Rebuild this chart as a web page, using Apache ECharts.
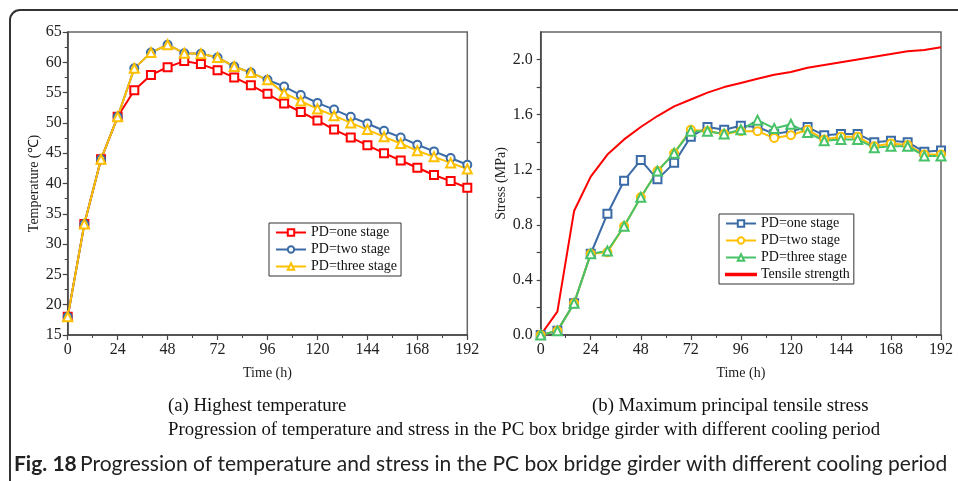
<!DOCTYPE html>
<html>
<head>
<meta charset="utf-8">
<script src="https://cdn.jsdelivr.net/npm/echarts@6/dist/echarts.min.js"></script>
<style>
  html, body { margin: 0; padding: 0; background: #fff; }
  #chart { width: 958px; height: 481px; }
</style>
</head>
<body>
<div id="chart"></div>
<script>
// Sampling times (h)
const hours = [0, 8, 16, 24, 32, 40, 48, 56, 64, 72, 80, 88, 96, 104, 112, 120, 128, 136, 144, 152, 160, 168, 176, 184, 192];

// (a) Highest temperature (℃)
const tempOneStage = [18.0, 33.3, 44.0, 51.0, 55.4, 57.9, 59.2, 60.2, 59.7, 58.7, 57.5, 56.2, 54.8, 53.2, 51.8, 50.4, 48.9, 47.6, 46.3, 45.0, 43.8, 42.6, 41.4, 40.4, 39.3];
const tempTwoStage = [18.0, 33.3, 44.0, 51.0, 59.0, 61.6, 62.9, 61.5, 61.4, 60.8, 59.3, 58.3, 57.1, 56.0, 54.6, 53.3, 52.2, 51.0, 49.9, 48.7, 47.6, 46.4, 45.3, 44.2, 43.1];
const tempThreeStage = [18.0, 33.3, 44.0, 51.0, 59.0, 61.6, 62.9, 61.5, 61.4, 60.8, 59.3, 58.3, 57.1, 54.9, 53.6, 52.3, 51.2, 50.0, 48.9, 47.7, 46.6, 45.4, 44.4, 43.4, 42.4];

// (b) Maximum principal tensile stress (MPa)
const stressOneStage = [0, 0.03, 0.23, 0.59, 0.88, 1.12, 1.27, 1.13, 1.25, 1.44, 1.51, 1.49, 1.52, 1.51, 1.46, 1.48, 1.51, 1.45, 1.46, 1.46, 1.40, 1.41, 1.40, 1.33, 1.34];
const stressTwoStage = [0, 0.03, 0.23, 0.59, 0.60, 0.79, 1.00, 1.19, 1.32, 1.49, 1.48, 1.46, 1.48, 1.48, 1.43, 1.45, 1.49, 1.42, 1.44, 1.44, 1.37, 1.39, 1.38, 1.31, 1.31];
const stressThreeStage = [0, 0.03, 0.23, 0.59, 0.61, 0.79, 1.00, 1.19, 1.32, 1.48, 1.48, 1.46, 1.49, 1.56, 1.50, 1.53, 1.47, 1.41, 1.42, 1.42, 1.36, 1.37, 1.37, 1.30, 1.30];
const tensileStrength = [0, 0.17, 0.90, 1.15, 1.31, 1.42, 1.51, 1.59, 1.66, 1.71, 1.76, 1.80, 1.83, 1.86, 1.89, 1.91, 1.94, 1.96, 1.98, 2.00, 2.02, 2.04, 2.06, 2.07, 2.09];

// Legend labels and captions
const stageNames = ['PD=one stage', 'PD=two stage', 'PD=three stage'];
const strengthName = 'Tensile strength';
const captionA = '(a) Highest temperature';
const captionB = '(b) Maximum principal tensile stress';
const subCaption = 'Progression of temperature and stress in the PC box bridge girder with different cooling period';
const figLabel = 'Fig. 18';
const figCaption = 'Progression of temperature and stress in the PC box bridge girder with different cooling period';

const pairs = (ys) => hours.map((h, i) => [h, ys[i]]);

// Series in panel (b) get an internal suffix so that the two legends stay apart;
// the legend formatter strips it again.
const SUFFIX_B = '#b';
const stripSuffix = (n) => n.replace(SUFFIX_B, '');

const SERIF = 'Liberation Serif';
const RED = '#ff0000', BLUE = '#3b6ba6', GOLD = '#ffc000', GREEN = '#47c268';
const AXIS = '#444';
const TICK_FONT = 16;

function xAxisFor(gridIndex) {
  return {
    type: 'value', gridIndex, min: 0, max: 192, interval: 24,
    name: 'Time (h)', nameLocation: 'middle', nameGap: 31,
    nameTextStyle: { fontFamily: SERIF, fontSize: 14, color: '#222' },
    axisLine: { show: true, onZero: false, lineStyle: { color: AXIS, width: 1.5 } },
    axisTick: { show: true, length: 5, lineStyle: { color: AXIS, width: 1.2 } },
    minorTick: { show: true, splitNumber: 2, length: 3, lineStyle: { color: AXIS, width: 1 } },
    axisLabel: { fontFamily: SERIF, fontSize: TICK_FONT, color: '#222', margin: 7 },
    splitLine: { show: false }
  };
}

function lineSeries(name, data, color, symbol, xi, yi, size) {
  return {
    name, type: 'line', xAxisIndex: xi, yAxisIndex: yi,
    data: pairs(data), symbol, symbolSize: size,
    showAllSymbol: true,
    lineStyle: { color, width: 2 },
    itemStyle: { color, borderColor: color, borderWidth: 1.3 },
    emphasis: { disabled: true },
    animation: false
  };
}

const legendCommon = {
  orient: 'vertical',
  itemWidth: 30, itemHeight: 8, itemGap: 2,
  padding: [2, 4, 2, 6],
  borderColor: '#333', borderWidth: 1,
  textStyle: { fontFamily: SERIF, fontSize: 14, color: '#111', lineHeight: 15 },
  selectedMode: false,
  formatter: stripSuffix
};

const chart = echarts.init(document.getElementById('chart'), null, { renderer: 'canvas' });

chart.setOption({
  backgroundColor: '#fff',
  animation: false,
  grid: [
    { left: 67.7, right: 490.7, top: 32, bottom: 146, show: true, borderColor: '#666', borderWidth: 1.5, backgroundColor: 'transparent' },
    { left: 540.7, right: 17, top: 32, bottom: 146, show: true, borderColor: '#666', borderWidth: 1.5, backgroundColor: 'transparent' }
  ],
  xAxis: [xAxisFor(0), xAxisFor(1)],
  yAxis: [
    {
      type: 'value', gridIndex: 0, min: 15, max: 65, interval: 5,
      name: 'Temperature (℃)', nameLocation: 'middle', nameGap: 26, nameRotate: 90,
      nameTextStyle: { fontFamily: SERIF, fontSize: 14, color: '#222' },
      axisLine: { show: true, lineStyle: { color: AXIS, width: 1.5 } },
      axisTick: { show: true, length: 5, lineStyle: { color: AXIS, width: 1.2 } },
      minorTick: { show: true, splitNumber: 2, length: 3, lineStyle: { color: AXIS, width: 1 } },
      axisLabel: { fontFamily: SERIF, fontSize: TICK_FONT, color: '#222', margin: 6 },
      splitLine: { show: false }
    },
    {
      type: 'value', gridIndex: 1, min: 0, max: 2.2, interval: 0.2,
      name: 'Stress (MPa)', nameLocation: 'middle', nameGap: 29, nameRotate: 90,
      nameTextStyle: { fontFamily: SERIF, fontSize: 14, color: '#222' },
      axisLine: { show: true, lineStyle: { color: AXIS, width: 1.5 } },
      axisTick: { show: true, length: 4, lineStyle: { color: AXIS, width: 1.2 } },
      axisLabel: {
        fontFamily: SERIF, fontSize: TICK_FONT, color: '#222', margin: 8,
        showMaxLabel: false,
        formatter: (v) => (Math.round(v * 10) % 4 === 0 && v < 2.15) ? v.toFixed(1) : ''
      },
      splitLine: { show: false }
    }
  ],
  legend: [
    Object.assign({}, legendCommon, {
      left: 269, top: 223,
      data: stageNames.map(n => ({ name: n }))
    }),
    Object.assign({}, legendCommon, {
      left: 719, top: 214,
      data: stageNames.map(n => ({ name: n + SUFFIX_B })).concat([
        { name: strengthName, icon: 'path://M0,0H30V1.5H0Z' }
      ])
    })
  ],
  series: [
    lineSeries(stageNames[0], tempOneStage, RED, 'emptyRect', 0, 0, 8),
    lineSeries(stageNames[1], tempTwoStage, BLUE, 'emptyCircle', 0, 0, 8),
    lineSeries(stageNames[2], tempThreeStage, GOLD, 'emptyTriangle', 0, 0, 9),
    lineSeries(stageNames[0] + SUFFIX_B, stressOneStage, BLUE, 'emptyRect', 1, 1, 8),
    lineSeries(stageNames[1] + SUFFIX_B, stressTwoStage, GOLD, 'emptyCircle', 1, 1, 8),
    lineSeries(stageNames[2] + SUFFIX_B, stressThreeStage, GREEN, 'emptyTriangle', 1, 1, 9),
    lineSeries(strengthName, tensileStrength, RED, 'none', 1, 1, 0)
  ],
  graphic: [
    {
      type: 'rect', silent: true, z: 100,
      shape: { x: 10, y: 10, width: 1000, height: 520, r: 10 },
      style: { fill: 'none', stroke: '#333', lineWidth: 2 }
    },
    {
      type: 'text', left: 168, top: 397, silent: true,
      style: { text: captionA, font: '18.8px "Liberation Serif"', fill: '#111' }
    },
    {
      type: 'text', left: 592, top: 397, silent: true,
      style: { text: captionB, font: '18.8px "Liberation Serif"', fill: '#111' }
    },
    {
      type: 'text', left: 168, top: 421, silent: true,
      style: { text: subCaption, font: '18.8px "Liberation Serif"', fill: '#111' }
    },
    {
      type: 'text', left: 14, top: 454, silent: true,
      style: {
        text: '{b|' + figLabel + '} {r|' + figCaption + '}',
        rich: {
          b: { fontFamily: 'Lato', fontWeight: 'bold', fontSize: 21, fill: '#222' },
          r: { fontFamily: 'Lato', fontSize: 21, fill: '#222' }
        }
      }
    }
  ]
});
</script>
</body>
</html>
